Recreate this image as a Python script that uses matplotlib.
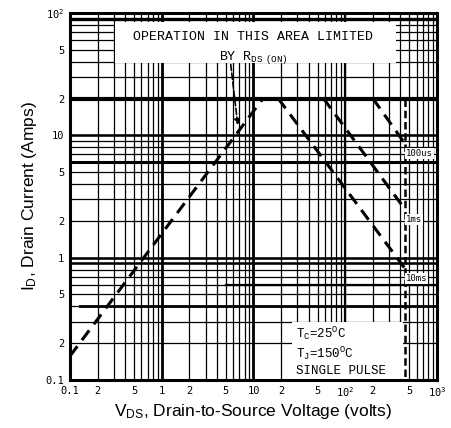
import matplotlib
matplotlib.use("Agg")
import matplotlib.pyplot as plt
from matplotlib.patches import Rectangle
import numpy as np

plt.rcParams['mathtext.default'] = 'regular'

# ---- data ----
rds_v = [0.1, 12.7]
rds_i = [0.157, 20.0]
pulse_labels = ["100us", "1ms", "10ms"]
pulse_v = [[200, 445], [58, 445], [18.6, 445]]
pulse_i = [[20, 8.6], [20, 2.5], [20, 0.82]]
vmax_v = [445, 445]
vmax_i = [20, 0.1]
idm = 20.0

x_ticks = [0.1, 0.2, 0.5, 1, 2, 5, 10, 20, 50, 100, 200, 500, 1000]
x_ticklabels = ["0.1", "2", "5", "1", "2", "5", "10", "2", "5", "10$^2$", "2", "5", "10$^3$"]
y_ticks = [0.1, 0.2, 0.5, 1, 2, 5, 10, 20, 50, 100]
y_ticklabels = ["0.1", "2", "5", "1", "2", "5", "10", "2", "5", "10$^2$"]

fig = plt.figure(figsize=(4.52, 4.28), dpi=100)
ax = fig.add_axes([70/452, 1-380/428, (437-70)/452, (380-13)/428])
ax.set_xscale('log')
ax.set_yscale('log')
ax.set_xlim(0.1, 1000)
ax.set_ylim(0.1, 100)

# graph paper grid
for dec in [0.1, 1, 10, 100]:
    for m in range(1, 10):
        v = dec * m
        if 0.1 < v < 1000:
            ax.axvline(v, color='black', lw=0.9, zorder=1)
for dec in [0.1, 1, 10]:
    for m in range(1, 10):
        v = dec * m
        if 0.1 < v < 100:
            ax.axhline(v, color='black', lw=0.9, zorder=1)

# heavier lines of the scanned paper
for v in [1, 10]:
    ax.axvline(v, color='black', lw=2.0, zorder=1)
ax.axvline(100, color='black', lw=1.6, zorder=1)
for h, w in [(90, 2.4), (idm, 3.0), (10, 1.8), (6, 2.2), (1, 1.8), (0.9, 1.8)]:
    ax.axhline(h, color='black', lw=w, zorder=1)
ax.plot([0.13, 1000], [0.4, 0.4], color='black', lw=2.0, zorder=1)
ax.plot([5, 1000], [0.6, 0.6], color='black', lw=1.6, zorder=1)

# white text areas
ax.add_patch(Rectangle((0.31, 39), 355 - 0.31, 84 - 39, facecolor='white', edgecolor='none', zorder=2))
ax.add_patch(Rectangle((26, 0.1), 427 - 26, 0.297 - 0.1, facecolor='white', edgecolor='none', zorder=2))

# SOA boundary
dash = (0, (4, 2.5))
ax.plot(rds_v, rds_i, color='black', lw=2.2, linestyle=dash, zorder=3)
for v, i in zip(pulse_v, pulse_i):
    ax.plot(v, i, color='black', lw=2.2, linestyle=dash, zorder=3)
ax.plot(vmax_v, vmax_i, color='black', lw=1.8, linestyle=(0, (3, 1.5)), zorder=3)

# pulse labels
for lab, i in zip(pulse_labels, pulse_i):
    ax.text(455, i[1] * 0.82, lab, fontsize=6.5, family='DejaVu Sans Mono', ha='left', va='center',
            zorder=4, bbox=dict(facecolor='white', edgecolor='none', pad=0.8))

# annotations
ax.text(0.5, 0.935, "OPERATION IN THIS AREA LIMITED", transform=ax.transAxes, ha='center', va='center',
        fontsize=9.5, family='Liberation Mono', zorder=4)
ax.text(0.5, 0.88, "BY R$_{DS\\ (ON)}$", transform=ax.transAxes, ha='center', va='center',
        fontsize=9.5, family='Liberation Mono', zorder=4)
ax.annotate("", xy=(6.8, 11.5), xytext=(5.6, 40),
            arrowprops=dict(arrowstyle='-|>', color='black', lw=1.2, linestyle='--', mutation_scale=8), zorder=4)
ax.text(29, 0.24, "T$_C$=25$^O$C", fontsize=9, family='Liberation Mono', va='center', zorder=4)
ax.text(29, 0.165, "T$_J$=150$^O$C", fontsize=9, family='Liberation Mono', va='center', zorder=4)
ax.text(29, 0.118, "SINGLE PULSE", fontsize=9, family='Liberation Mono', va='center', zorder=4)

# ticks and labels
ax.set_xticks(x_ticks)
ax.set_xticklabels(x_ticklabels, family='DejaVu Sans Mono', fontsize=7.5)
ax.set_yticks(y_ticks)
ax.set_yticklabels(y_ticklabels, family='DejaVu Sans Mono', fontsize=7.5)
ax.minorticks_off()
ax.tick_params(length=0, pad=4)
for s in ax.spines.values():
    s.set_linewidth(2.2)
    s.set_zorder(5)

ax.set_xlabel("V$_{DS}$, Drain-to-Source Voltage (volts)", family='Liberation Sans', fontsize=12.5, labelpad=2)
ax.set_ylabel("I$_D$, Drain Current (Amps)", family='Liberation Sans', fontsize=12.5, labelpad=5)

fig.savefig("out.png", dpi=100)
